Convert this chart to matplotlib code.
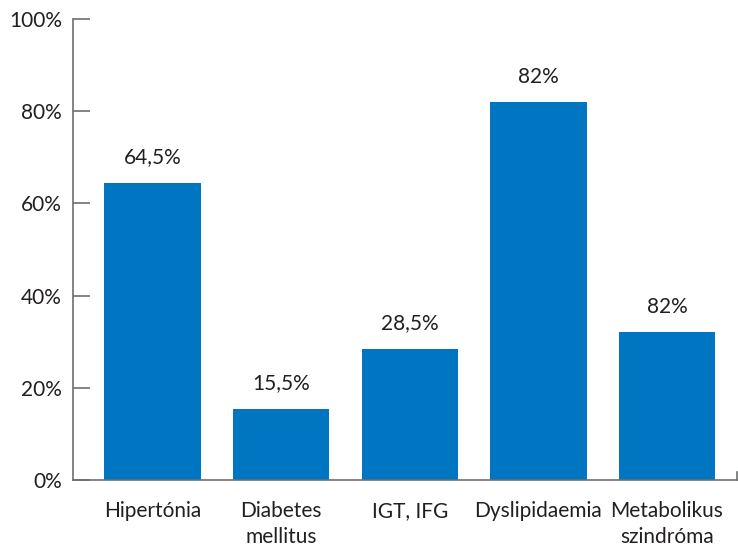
import matplotlib
matplotlib.use("Agg")
import matplotlib.pyplot as plt

categories = ["Hipertónia", "Diabetes\nmellitus", "IGT, IFG", "Dyslipidaemia", "Metabolikus\nszindróma"]
values = [64.5, 15.5, 28.5, 82, 32]
value_labels = ["64,5%", "15,5%", "28,5%", "82%", "82%"]
y_ticks = [0, 20, 40, 60, 80, 100]
y_tick_labels = ["0%", "20%", "40%", "60%", "80%", "100%"]

plt.rcParams['font.family'] = ['Lato', 'DejaVu Sans']
text_color = "#231f20"
spine_color = "#6d6e71"
bar_color = "#0075c2"
fs = 15

fig = plt.figure(figsize=(7.38, 5.47), dpi=100)
ax = fig.add_axes([73/738, 1 - 480/547, (737-73)/738, (480-19)/547])

x = list(range(len(categories)))
ax.bar(x, values, width=0.75, color=bar_color, zorder=2)
for xi, v, lab in zip(x, values, value_labels):
    ax.annotate(lab, (xi, v), xytext=(0, 11), textcoords="offset points",
                ha="center", va="bottom", fontsize=fs, color=text_color)

ax.set_xlim(-0.62, 4.545)
ax.set_ylim(0, 100)
ax.set_yticks(y_ticks)
ax.set_yticklabels(y_tick_labels)
ax.set_xticks(x)
ax.set_xticklabels(categories, fontsize=fs, color=text_color, linespacing=1.4)
ax.tick_params(axis="x", length=0, pad=15)
ax.tick_params(axis="y", direction="in", length=12, width=1.2, color=spine_color,
               pad=8, labelsize=fs, labelcolor=text_color)
for s in ["top", "right"]:
    ax.spines[s].set_visible(False)
for s in ["left", "bottom"]:
    ax.spines[s].set_color(spine_color)
    ax.spines[s].set_linewidth(1.2)
# small end tick at right of x axis
ax.plot([1, 1], [0, 0.018], transform=ax.transAxes, color=spine_color, lw=1.2, clip_on=False)

fig.savefig("out.png", dpi=100)
